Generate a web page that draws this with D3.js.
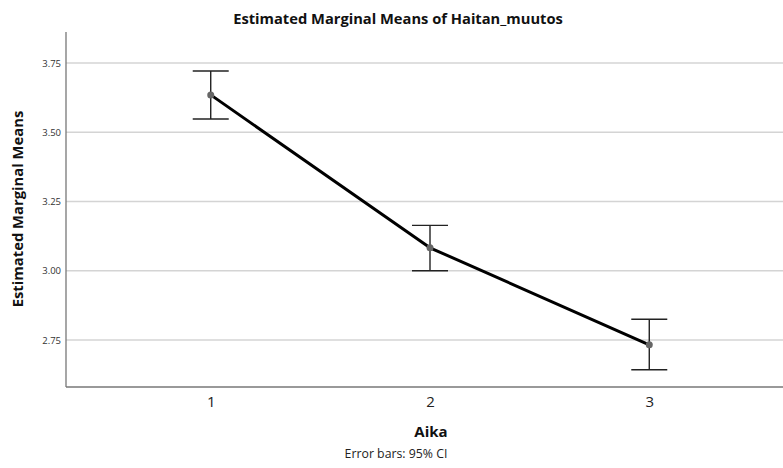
<!DOCTYPE html>
<html>
<head>
<meta charset="utf-8">
<script src="https://cdn.jsdelivr.net/npm/d3@7"></script>
<style>
  html, body { margin: 0; padding: 0; background: #fff; }
  svg { display: block; font-family: "Open Sans", "DejaVu Sans", sans-serif; }
</style>
</head>
<body>
<svg id="chart" width="783" height="468"></svg>
<script>
// ---- data ----
const categories = ["1", "2", "3"];
const means = [3.635, 3.083, 2.733];
const ciLower = [3.548, 3.000, 2.643];
const ciUpper = [3.721, 3.164, 2.825];
const yTicks = [2.75, 3.00, 3.25, 3.50, 3.75];
const titleText = "Estimated Marginal Means of Haitan_muutos";
const yLabel = "Estimated Marginal Means";
const xLabel = "Aika";
const footnote = "Error bars: 95% CI";

const svg = d3.select("#chart");
const W = 783;
const mLeft = 66, mTop = 32, mBottom = 387;

const x = d3.scalePoint().domain(categories).range([mLeft, 794]).padding(0.66);
const y = d3.scaleLinear().domain([2.5805, 3.862]).range([mBottom, mTop]);

// gridlines
svg.append("g").selectAll("line").data(yTicks).join("line")
  .attr("x1", mLeft).attr("x2", W)
  .attr("y1", d => y(d)).attr("y2", d => y(d))
  .attr("stroke", "#d4d4d4").attr("stroke-width", 1.4);

// y axis
const yAxis = svg.append("g").attr("transform", `translate(${mLeft},0)`)
  .call(d3.axisLeft(y).tickValues(yTicks).tickFormat(d3.format(".2f")).tickSize(0).tickPadding(5));
yAxis.select(".domain").remove();
yAxis.selectAll("text").attr("font-size", 9.5).attr("fill", "#333")
  .attr("font-family", "'Open Sans', sans-serif");
svg.append("line").attr("x1", mLeft).attr("x2", mLeft).attr("y1", mTop).attr("y2", mBottom)
  .attr("stroke", "#777").attr("stroke-width", 1.3);

// x axis
const xAxis = svg.append("g").attr("transform", `translate(0,${mBottom})`)
  .call(d3.axisBottom(x).tickSize(0).tickPadding(9));
xAxis.select(".domain").remove();
xAxis.selectAll("text").attr("font-size", 15).attr("fill", "#222")
  .attr("font-family", "'Open Sans', sans-serif");
svg.append("line").attr("x1", mLeft).attr("x2", W).attr("y1", mBottom).attr("y2", mBottom)
  .attr("stroke", "#777").attr("stroke-width", 1.3);

// line
const line = d3.line().x((d, i) => x(categories[i])).y(d => y(d));
svg.append("path").datum(means).attr("d", line)
  .attr("fill", "none").attr("stroke", "#000").attr("stroke-width", 3)
  .attr("stroke-linejoin", "round");

// error bars
const eb = svg.append("g").selectAll("g").data(categories).join("g");
const capW = 18;
eb.append("line")
  .attr("x1", d => x(d)).attr("x2", d => x(d))
  .attr("y1", (d, i) => y(ciLower[i])).attr("y2", (d, i) => y(ciUpper[i]))
  .attr("stroke", "#222").attr("stroke-width", 1.4);
eb.append("line")
  .attr("x1", d => x(d) - capW).attr("x2", d => x(d) + capW)
  .attr("y1", (d, i) => y(ciUpper[i])).attr("y2", (d, i) => y(ciUpper[i]))
  .attr("stroke", "#222").attr("stroke-width", 1.4);
eb.append("line")
  .attr("x1", d => x(d) - capW).attr("x2", d => x(d) + capW)
  .attr("y1", (d, i) => y(ciLower[i])).attr("y2", (d, i) => y(ciLower[i]))
  .attr("stroke", "#222").attr("stroke-width", 1.4);

// points
svg.append("g").selectAll("circle").data(means).join("circle")
  .attr("cx", (d, i) => x(categories[i])).attr("cy", d => y(d))
  .attr("r", 3.5).attr("fill", "#666");

// title
svg.append("text").attr("x", 398).attr("y", 24).attr("text-anchor", "middle")
  .attr("font-size", 14.7).attr("font-weight", "bold").attr("fill", "#111")
  .text(titleText);

// y label
svg.append("text").attr("transform", "translate(23,209) rotate(-90)")
  .attr("text-anchor", "middle").attr("font-size", 14.8).attr("font-weight", "bold").attr("fill", "#111")
  .text(yLabel);

// x label
svg.append("text").attr("x", 431).attr("y", 437).attr("text-anchor", "middle")
  .attr("font-size", 15).attr("font-weight", "bold").attr("fill", "#111")
  .text(xLabel);

// footnote
svg.append("text").attr("x", 396).attr("y", 458).attr("text-anchor", "middle")
  .attr("font-size", 12.3).attr("fill", "#222")
  .text(footnote);
</script>
</body>
</html>
